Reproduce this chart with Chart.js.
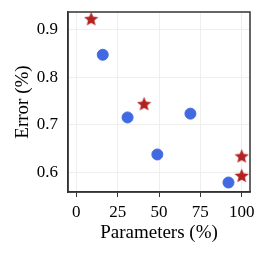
<!DOCTYPE html>
<html>
<head>
<meta charset="utf-8">
<script src="https://cdn.jsdelivr.net/npm/chart.js@4"></script>
<style>
  html, body { margin: 0; padding: 0; background: #fff; }
  #wrap { width: 266px; height: 255px; }
</style>
</head>
<body>
<div id="wrap"><canvas id="errChart" width="266" height="255"></canvas></div>
<script>
const blueParams = [16, 31, 49, 69, 92];
const blueError = [0.847, 0.715, 0.637, 0.723, 0.578];
const redParams = [9, 41, 100, 100];
const redError = [0.923, 0.744, 0.634, 0.593];
const xTicks = [0, 25, 50, 75, 100];
const yTicks = [0.6, 0.7, 0.8, 0.9];

// filled five point star, chart.js 'star' is outline only
function makeStar(size, color) {
    const c = document.createElement('canvas');
    c.width = size; c.height = size;
    const g = c.getContext('2d');
    const cx = size / 2, cy = size / 2 + size * 0.05;
    const R = size / 2, r = R * 0.45;
    g.beginPath();
    for (let i = 0; i < 10; i++) {
        const rad = i % 2 === 0 ? R : r;
        const a = -Math.PI / 2 + i * Math.PI / 5;
        const px = cx + rad * Math.cos(a), py = cy + rad * Math.sin(a);
        if (i === 0) g.moveTo(px, py); else g.lineTo(px, py);
    }
    g.closePath();
    g.fillStyle = color;
    g.fill();
    return c;
}
const star = makeStar(15, '#b22222');

const font = 'Liberation Serif';
const ctx = document.getElementById('errChart').getContext('2d');

const myChart = new Chart(ctx, {
    type: 'scatter',
    data: {
        datasets: [{
            data: blueParams.map((x, i) => ({ x: x, y: blueError[i] })),
            backgroundColor: '#4169e1',
            borderColor: '#4169e1',
            pointRadius: 5.5,
            pointHoverRadius: 5.5
        }, {
            data: redParams.map((x, i) => ({ x: x, y: redError[i] })),
            pointStyle: star,
            pointRadius: 7
        }]
    },
    options: {
        responsive: false,
        animation: false,
        layout: { padding: { top: 12, right: 16, left: 7, bottom: 7 } },
        plugins: { legend: { display: false }, tooltip: { enabled: false } },
        scales: {
            x: {
                type: 'linear',
                min: -5,
                max: 105,
                afterBuildTicks: (axis) => { axis.ticks = xTicks.map(v => ({ value: v })); },
                afterFit: (axis) => { axis.height = 56; axis.paddingLeft = 0; axis.paddingRight = 0; },
                border: { display: true, color: '#333', width: 1.5 },
                grid: { color: '#eeeeee', drawTicks: true, tickLength: 5, tickColor: '#333', lineWidth: 1 },
                ticks: { color: '#000', font: { family: font, size: 17 }, padding: 5, maxRotation: 0 },
                title: { display: true, text: 'Parameters (%)', color: '#000', font: { family: font, size: 19 }, padding: { top: 0, bottom: 4 } }
            },
            y: {
                type: 'linear',
                min: 0.558,
                max: 0.937,
                afterBuildTicks: (axis) => { axis.ticks = yTicks.map(v => ({ value: v })); },
                afterFit: (axis) => { axis.width = 61; axis.paddingTop = 0; axis.paddingBottom = 0; },
                border: { display: true, color: '#333', width: 1.5 },
                grid: { color: '#eeeeee', drawTicks: false, lineWidth: 1 },
                ticks: { color: '#000', font: { family: font, size: 17 }, padding: 10, callback: v => v.toFixed(1) },
                title: { display: true, text: 'Error (%)', color: '#000', font: { family: font, size: 19 }, padding: { top: 5, bottom: 2 } }
            }
        }
    },
    plugins: [{
        id: 'frame',
        afterDraw(chart) {
            const a = chart.chartArea, g = chart.ctx;
            g.save();
            g.strokeStyle = '#333';
            g.lineWidth = 1.5;
            g.strokeRect(a.left, a.top, a.right - a.left, a.bottom - a.top);
            g.restore();
        }
    }]
});
</script>
</body>
</html>
